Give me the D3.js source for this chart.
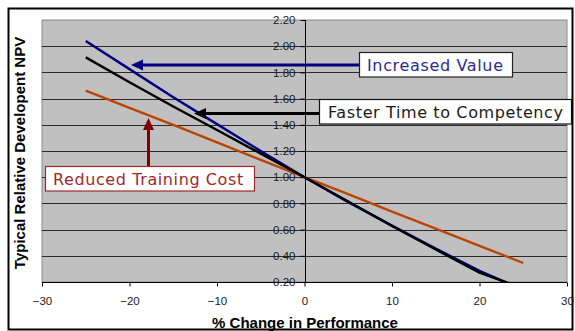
<!DOCTYPE html>
<html>
<head>
<meta charset="utf-8">
<script src="https://cdn.jsdelivr.net/npm/d3@7"></script>
<style>
  html, body { margin: 0; padding: 0; background: #fff; }
  svg { display: block; }
</style>
</head>
<body>
<svg id="chart" width="575" height="331"></svg>
<script>
// ---- data ----
const xValues = [-25, -20, -15, -10, -5, 0, 5, 10, 15, 20, 25];
const increasedValue = [2.04, 1.825, 1.61, 1.405, 1.20, 1.0, 0.81, 0.63, 0.455, 0.285, 0.14];
const fasterTime = [1.915, 1.725, 1.54, 1.36, 1.18, 1.0, 0.815, 0.628, 0.448, 0.272, 0.15];
const reducedCost = [1.66, 1.53, 1.40, 1.265, 1.132, 1.0, 0.87, 0.738, 0.607, 0.476, 0.345];
const xTickValues = [-30, -20, -10, 0, 10, 20, 30];
const yTickValues = [0.2, 0.4, 0.6, 0.8, 1.0, 1.2, 1.4, 1.6, 1.8, 2.0, 2.2];
const seriesNames = ["Increased Value", "Faster Time to Competency", "Reduced Training Cost"];
const xTitle = "% Change in Performance";
const yTitle = "Typical Relative Developent NPV";

// ---- layout ----
const svg = d3.select("#chart");
const plot = { left: 42, right: 567, top: 20, bottom: 282 };
const x = d3.scaleLinear().domain([-30, 30]).range([plot.left, plot.right]);
const y = d3.scaleLinear().domain([0.2, 2.2]).range([plot.bottom, plot.top]);

// outer chart border
svg.append("rect")
  .attr("x", 8.5).attr("y", 8.5).attr("width", 564).attr("height", 321)
  .attr("fill", "#fff").attr("stroke", "#000").attr("stroke-width", 2);

// plot background
svg.append("rect")
  .attr("x", plot.left).attr("y", plot.top)
  .attr("width", plot.right - plot.left).attr("height", plot.bottom - plot.top)
  .attr("fill", "#c0c0c0").attr("stroke", "#8a8a8a").attr("stroke-width", 1);

// gridlines
svg.append("g").selectAll("line")
  .data(yTickValues.filter(v => v > 0.2 && v < 2.2))
  .join("line")
  .attr("x1", plot.left).attr("x2", plot.right)
  .attr("y1", d => Math.round(y(d)) + 0.5).attr("y2", d => Math.round(y(d)) + 0.5)
  .attr("stroke", "#2a2a2a").attr("stroke-width", 1);

// y axis at x = 0
const yAxis = svg.append("g")
  .attr("transform", `translate(${Math.round(x(0)) + 0.5},0)`)
  .call(d3.axisLeft(y).tickValues(yTickValues).tickFormat(d3.format(".2f")).tickSize(5).tickPadding(5));
yAxis.select(".domain").attr("stroke", "#000");
yAxis.selectAll(".tick line").attr("stroke", "#000");
yAxis.selectAll(".tick text")
  .attr("font-family", "'Liberation Sans', Arial, sans-serif")
  .attr("font-size", "11.5px").attr("fill", "#1a1a1a");
yAxis.selectAll(".domain").attr("d", `M0,${plot.top}V${plot.bottom}`);

// x axis at bottom
const xAxis = svg.append("g")
  .attr("transform", `translate(0,${plot.bottom + 0.5})`)
  .call(d3.axisBottom(x).tickValues(xTickValues).tickFormat(d3.format("d")).tickSize(4).tickPadding(10));
xAxis.select(".domain").attr("stroke", "#000").attr("d", `M${plot.left},0H${plot.right}`);
xAxis.selectAll(".tick line").attr("stroke", "#000");
xAxis.selectAll(".tick text")
  .attr("font-family", "'Liberation Sans', Arial, sans-serif")
  .attr("font-size", "11.5px").attr("fill", "#1a1a1a");

// clip for lines
svg.append("clipPath").attr("id", "plotclip")
  .append("rect").attr("x", plot.left).attr("y", plot.top)
  .attr("width", plot.right - plot.left).attr("height", plot.bottom - plot.top);

const line = d3.line().x((d, i) => x(xValues[i])).y(d => y(d));
const lineG = svg.append("g").attr("clip-path", "url(#plotclip)");
const series = [
  { vals: reducedCost, color: "#bb4400" },
  { vals: increasedValue, color: "#000080" },
  { vals: fasterTime, color: "#000000" }
];
series.forEach(s => {
  lineG.append("path").datum(s.vals)
    .attr("d", line).attr("fill", "none")
    .attr("stroke", s.color).attr("stroke-width", 2.4)
    .attr("stroke-linejoin", "round");
});

// axis titles
svg.append("text")
  .attr("x", (plot.left + plot.right) / 2 + 0.5).attr("y", 327.5)
  .attr("text-anchor", "middle")
  .attr("font-family", "'Liberation Sans', Arial, sans-serif")
  .attr("font-weight", "bold").attr("font-size", "15px").attr("fill", "#000")
  .text(xTitle);
svg.append("text")
  .attr("transform", `translate(25,${(plot.top + plot.bottom) / 2 + 2}) rotate(-90)`)
  .attr("text-anchor", "middle")
  .attr("font-family", "'Liberation Sans', Arial, sans-serif")
  .attr("font-weight", "bold").attr("font-size", "15px").attr("fill", "#000")
  .text(yTitle);

// annotation arrows + boxes
function arrowHead(g, tipX, tipY, dir, color) {
  const L = 12, W = 5.5;
  let pts;
  if (dir === "left") pts = [[tipX, tipY], [tipX + L, tipY - W], [tipX + L, tipY + W]];
  else pts = [[tipX, tipY], [tipX - W, tipY + L], [tipX + W, tipY + L]];
  g.append("polygon").attr("points", pts.map(p => p.join(",")).join(" ")).attr("fill", color);
}
const ann = svg.append("g");

// Increased Value
ann.append("line").attr("x1", 359).attr("x2", 140).attr("y1", 65).attr("y2", 65)
  .attr("stroke", "#000080").attr("stroke-width", 3);
arrowHead(ann, 131, 65, "left", "#000080");
ann.append("rect").attr("x", 359.5).attr("y", 52.5).attr("width", 153).attr("height", 24.5)
  .attr("fill", "#fff").attr("stroke", "#222").attr("stroke-width", 1.2);
ann.append("text").attr("x", 367).attr("y", 70.5)
  .attr("font-family", "'DejaVu Sans', Verdana, sans-serif").attr("font-size", "16px")
  .attr("letter-spacing", "0.65px").attr("fill", "#2b2b8f").text(seriesNames[0]);

// Faster Time to Competency
ann.append("line").attr("x1", 319).attr("x2", 203).attr("y1", 113.5).attr("y2", 113.5)
  .attr("stroke", "#000").attr("stroke-width", 3);
arrowHead(ann, 194, 113.5, "left", "#000");
ann.append("rect").attr("x", 319.5).attr("y", 99.5).attr("width", 252).attr("height", 24.5)
  .attr("fill", "#fff").attr("stroke", "#111").attr("stroke-width", 1.2);
ann.append("text").attr("x", 328).attr("y", 117.5)
  .attr("font-family", "'DejaVu Sans', Verdana, sans-serif").attr("font-size", "16px")
  .attr("letter-spacing", "0.62px").attr("fill", "#1a1a1a").text(seriesNames[1]);

// Reduced Training Cost
ann.append("line").attr("x1", 148.5).attr("x2", 148.5).attr("y1", 166).attr("y2", 127)
  .attr("stroke", "#800000").attr("stroke-width", 3);
arrowHead(ann, 148.5, 118, "up", "#800000");
ann.append("rect").attr("x", 45.5).attr("y", 166.5).attr("width", 209).attr("height", 24.5)
  .attr("fill", "#fff").attr("stroke", "#a02828").attr("stroke-width", 1.2);
ann.append("text").attr("x", 53).attr("y", 184.5)
  .attr("font-family", "'DejaVu Sans', Verdana, sans-serif").attr("font-size", "16px")
  .attr("letter-spacing", "0.6px").attr("fill", "#a0282a").text(seriesNames[2]);
</script>
</body>
</html>
